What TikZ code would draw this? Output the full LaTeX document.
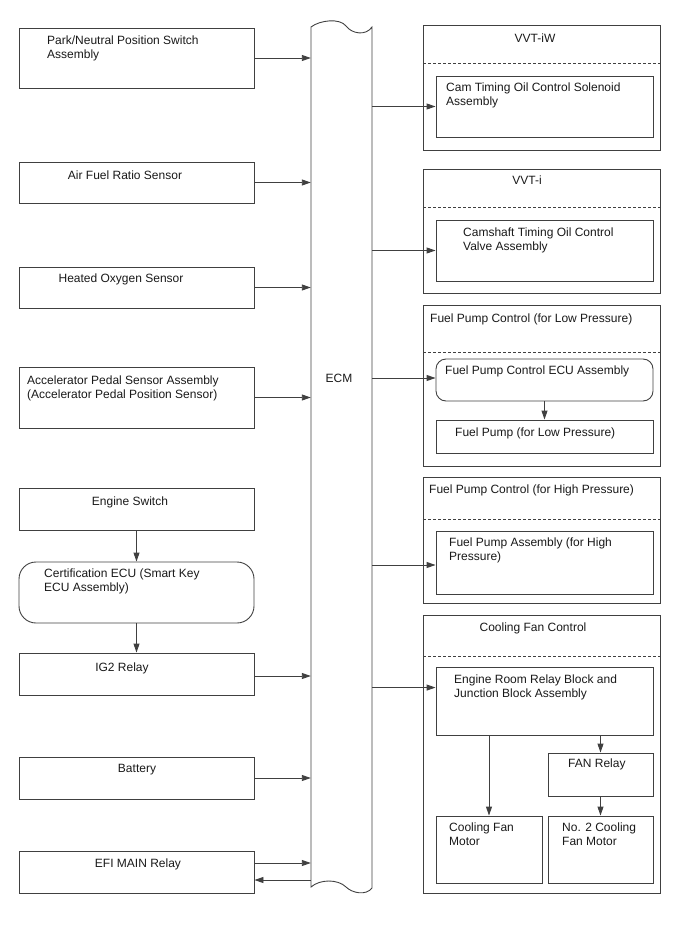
\documentclass[tikz,border=0pt]{standalone}
\usepackage{fontspec}
\setmainfont{Liberation Sans}
\usetikzlibrary{fit}
\usetikzlibrary{arrows.meta}

\begin{document}
\begin{tikzpicture}[x=1pt,y=-1pt,
  box/.style={draw=black!75,line width=0.9pt,inner sep=0pt},
  arr/.style={draw=black!75,line width=0.9pt,-{Triangle[length=9pt,width=6pt]}},
  sep/.style={draw=black!75,line width=0.9pt,dash pattern=on 3pt off 2pt},
  txt/.style={inner sep=0pt,align=left,font=\fontsize{12}{14}\selectfont,text=black!90}]
\useasboundingbox (0,0) rectangle (688,949);
% inputs on the left
\node[box,fit={(19,28) (254,88)}] (pns) {};
\node[box,fit={(19,162) (254,203)}] (afr) {};
\node[box,fit={(19,267) (254,308)}] (hos) {};
\node[box,fit={(19,367) (254,428)}] (aps) {};
\node[box,fit={(19,488) (254,530)}] (esw) {};
\node[box,rounded corners=17pt,fit={(19,562) (254,623)}] (cert) {};
\node[box,fit={(19,653) (254,695)}] (ig2) {};
\node[box,fit={(19,757) (254,799)}] (bat) {};
\node[box,fit={(19,851) (254,893)}] (efi) {};
\node[txt,anchor=north west] at (47,35.5) {Park/Neutral Position Switch\\Assembly};
\node[txt,anchor=north] at (125,170.5) {Air Fuel Ratio Sensor};
\node[txt,anchor=north] at (121,273.5) {Heated Oxygen Sensor};
\node[txt,anchor=north west] at (27,375.5) {Accelerator Pedal Sensor Assembly\\(Accelerator Pedal Position Sensor)};
\node[txt,anchor=north] at (130,496.5) {Engine Switch};
\node[txt,anchor=north west] at (44,568.5) {Certification ECU (Smart Key\\ECU Assembly)};
\node[txt,anchor=north] at (122,662.5) {IG2 Relay};
\node[txt,anchor=north] at (137,764.5) {Battery};
\node[txt,anchor=north] at (138,858.5) {EFI MAIN Relay};
% ECM
\node[inner sep=0pt,fit={(311,27) (372,888)}] (ecm) {};
\draw[black!75,line width=0.9pt] (311,887) -- (311,27)
  .. controls (320,20) and (340,18) .. (346,26)
  .. controls (352,34) and (366,36) .. (372,27) -- (372,888)
  .. controls (366,896) and (352,893) .. (346,887)
  .. controls (338,879) and (320,879) .. cycle;
\node[txt,anchor=north] at (339,373.5) {ECM};
% outputs on the right
\node[box,fit={(423,25) (660,150)}] (vvtiw) {};
\draw[sep] (423,63) -- (660,63);
\node[box,fit={(436,76) (653,137)}] (ctoc) {};
\node[txt,anchor=north] at (535,33.5) {VVT-iW};
\node[txt,anchor=north west] at (446,82.5) {Cam Timing Oil Control Solenoid\\Assembly};
\node[box,fit={(423,169) (660,293)}] (vvti) {};
\draw[sep] (423,207) -- (660,207);
\node[box,fit={(436,220) (653,281)}] (octv) {};
\node[txt,anchor=north] at (527,175.5) {VVT-i};
\node[txt,anchor=north west] at (463,227.5) {Camshaft Timing Oil Control\\Valve Assembly};
\node[box,fit={(423,305) (660,466)}] (fplow) {};
\draw[sep] (423,352) -- (660,352);
\node[box,rounded corners=10pt,fit={(436,359) (653,401)}] (fpecu) {};
\node[box,fit={(436,420) (653,453)}] (fpl) {};
\node[txt,anchor=north west] at (430,313.5) {Fuel Pump Control (for Low Pressure)};
\node[txt,anchor=north west] at (445,365.5) {Fuel Pump Control ECU Assembly};
\node[txt,anchor=north west] at (455,427.5) {Fuel Pump (for Low Pressure)};
\node[box,fit={(423,477) (660,603)}] (fphigh) {};
\draw[sep] (423,519) -- (660,519);
\node[box,fit={(436,531) (653,594)}] (fpa) {};
\node[txt,anchor=north west] at (429,484.5) {Fuel Pump Control (for High Pressure)};
\node[txt,anchor=north west] at (449,537.5) {Fuel Pump Assembly (for High\\Pressure)};
\node[box,fit={(423,615) (660,893)}] (cfc) {};
\draw[sep] (423,656) -- (660,656);
\node[box,fit={(436,667) (653,735)}] (erb) {};
\node[box,fit={(548,753) (653,796)}] (fan) {};
\node[box,fit={(436,816) (542,883)}] (cfm) {};
\node[box,fit={(548,816) (653,883)}] (cfm2) {};
\node[txt,anchor=north] at (533,622.5) {Cooling Fan Control};
\node[txt,anchor=north west] at (454,674.5) {Engine Room Relay Block and\\Junction Block Assembly};
\node[txt,anchor=north west] at (568,758.5) {FAN Relay};
\node[txt,anchor=north west] at (449,822.5) {Cooling Fan\\Motor};
\node[txt,anchor=north west] at (562,822.5) {No. 2 Cooling\\Fan Motor};
% connectors
\draw[arr] (pns.east) -- (pns.east -| ecm.west);
\draw[arr] (afr.east) -- (afr.east -| ecm.west);
\draw[arr] (hos.east) -- (hos.east -| ecm.west);
\draw[arr] (aps.east) -- (aps.east -| ecm.west);
\draw[arr] (esw.south) -- (cert.north);
\draw[arr] (cert.south) -- (ig2.north);
\draw[arr] ([yshift=-2pt]ig2.east) -- ([yshift=-2pt]ig2.east -| ecm.west);
\draw[arr] (bat.east) -- (bat.east -| ecm.west);
\draw[arr] ([yshift=9pt]efi.east) -- ([yshift=9pt]efi.east -| ecm.west);
\draw[arr] ([yshift=-8pt]efi.east -| ecm.west) -- ([yshift=-8pt]efi.east);
\draw[arr] (ctoc.west -| ecm.east) -- (ctoc.west);
\draw[arr] (octv.west -| ecm.east) -- (octv.west);
\draw[arr] ([yshift=2pt]fpecu.west -| ecm.east) -- ([yshift=2pt]fpecu.west);
\draw[arr] (fpecu.south) -- (fpl.north);
\draw[arr] ([yshift=-2.5pt]fpa.west -| ecm.east) -- ([yshift=-2.5pt]fpa.west);
\draw[arr] ([yshift=-21pt]erb.north west -| ecm.east) -- ([yshift=-21pt]erb.north west);
\draw[arr] (erb.south -| cfm.north) -- (cfm.north);
\draw[arr] (erb.south -| fan.north) -- (fan.north);
\draw[arr] (fan.south) -- (cfm2.north);
\end{tikzpicture}
\end{document}
